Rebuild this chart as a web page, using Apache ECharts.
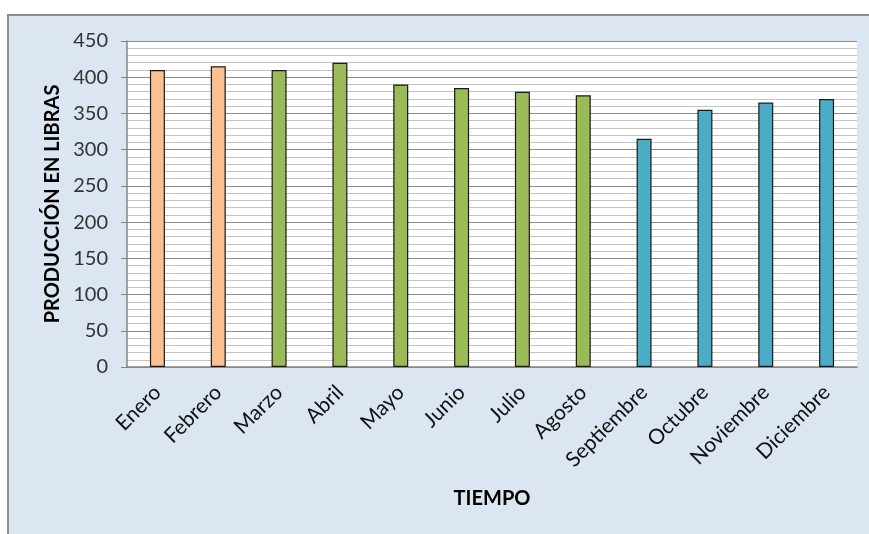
<!DOCTYPE html>
<html>
<head>
<meta charset="utf-8">
<script src="https://cdn.jsdelivr.net/npm/echarts@6/dist/echarts.min.js"></script>
<style>
html,body{margin:0;padding:0;background:#fff;}
#chart{width:869px;height:534px;}
</style>
</head>
<body>
<div id="chart"></div>
<script>
const months = ["Enero","Febrero","Marzo","Abril","Mayo","Junio","Julio","Agosto","Septiembre","Octubre","Noviembre","Diciembre"];
const production = [410,415,410,420,390,385,380,375,315,355,365,370];
const season = ["a","a","b","b","b","b","b","b","c","c","c","c"];
const yTicks = [0,50,100,150,200,250,300,350,400,450];

const seasonColors = {a:"#FAC090", b:"#9BBB59", c:"#4BACC6"};
const FONT = "Lato";

const chart = echarts.init(document.getElementById('chart'), null, {renderer:'canvas'});
chart.setOption({
  backgroundColor:'#ffffff',
  animation:false,
  graphic:[{
    type:'rect', z:-10, silent:true,
    shape:{x:8, y:15, width:880, height:540},
    style:{fill:'#DCE6F2', stroke:'#8C8C8C', lineWidth:2}
  }],
  grid:{left:127, top:41, right:12, bottom:167, show:true, backgroundColor:'#ffffff', borderWidth:0},
  xAxis:{
    type:'category', data:months,
    name:'TIEMPO', nameLocation:'middle', nameGap:122,
    nameTextStyle:{fontFamily:FONT, fontWeight:'bold', fontSize:20, color:'#000'},
    axisLine:{lineStyle:{color:'#868686', width:1.5}},
    axisTick:{show:false},
    axisLabel:{rotate:45, interval:0, margin:22, fontFamily:FONT, fontSize:21, color:'#111'}
  },
  yAxis:{
    type:'value', min:yTicks[0], max:yTicks[yTicks.length-1], interval:50,
    name:'PRODUCCIÓN EN LIBRAS', nameLocation:'middle', nameGap:64,
    nameTextStyle:{fontFamily:FONT, fontWeight:'bold', fontSize:20, color:'#000'},
    axisLine:{show:true, lineStyle:{color:'#868686', width:1.5}},
    axisTick:{show:true, length:6, lineStyle:{color:'#868686'}},
    axisLabel:{fontFamily:FONT, fontSize:20, color:'#333', margin:19},
    splitLine:{show:true, lineStyle:{color:'#8C8C8C', width:1}},
    minorTick:{show:false, splitNumber:5},
    minorSplitLine:{show:true, lineStyle:{color:'#C4C4C4', width:1.2}}
  },
  series:[{
    type:'bar', barWidth:15,
    data: production.map((v,i)=>({value:v, itemStyle:{color:seasonColors[season[i]]}})),
    itemStyle:{borderColor:'#1a1a1a', borderWidth:1.2}
  }]
});
</script>
</body>
</html>
